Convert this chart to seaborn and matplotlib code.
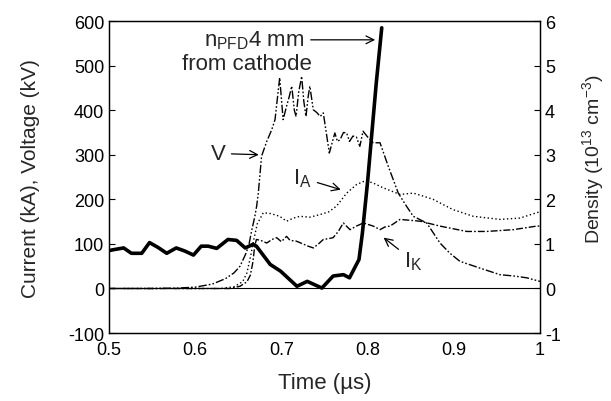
import pandas as pd
import matplotlib
matplotlib.use("Agg")
import matplotlib.pyplot as plt
import seaborn as sns

# Tension V (kV)
t_v = [0.50, 0.55, 0.58, 0.60, 0.62, 0.635, 0.645, 0.652, 0.658, 0.662, 0.6655, 0.669,
       0.6713, 0.6732, 0.677, 0.683, 0.6887, 0.6926, 0.698, 0.702, 0.706, 0.709, 0.712,
       0.715, 0.717, 0.720, 0.7235, 0.726, 0.7285, 0.731, 0.733, 0.737, 0.741, 0.745,
       0.7486, 0.7556, 0.762, 0.765, 0.768, 0.772, 0.7757, 0.779, 0.783, 0.787, 0.791,
       0.7947, 0.800, 0.8066, 0.8144, 0.824, 0.8356, 0.845, 0.853, 0.8686, 0.884, 0.895,
       0.907, 0.930, 0.9536, 0.970, 0.9846, 1.0]
v_kv = [0, 0, 1, 3, 10, 22, 35, 50, 75, 95, 130, 160,
        185, 214, 297, 330, 356, 379, 473, 379, 409, 430, 454,
        400, 386, 440, 476, 420, 386, 430, 454, 401, 395, 386,
        394, 304, 349, 330, 334, 350, 349, 330, 342, 340, 319,
        353, 340, 327, 327, 274, 214, 185, 162, 147, 102, 80,
        61, 46, 31, 28, 24, 16]

# Corriente de anodo I_A (kA)
t_ia = [0.50, 0.63, 0.645, 0.655, 0.660, 0.664, 0.668, 0.672, 0.679, 0.688, 0.698, 0.706,
        0.714, 0.7216, 0.733, 0.745, 0.755, 0.764, 0.7757, 0.787, 0.795, 0.805, 0.818,
        0.8376, 0.853, 0.865, 0.876, 0.899, 0.9226, 0.9536, 0.9768, 0.996, 1.0]
ia_ka = [0, 0, 4, 15, 35, 70, 110, 145, 170, 168, 162, 151,
         158, 162, 160, 166, 172, 185, 214, 233, 240, 238, 226,
         211, 214, 207, 200, 177, 162, 155, 158, 170, 172]

# Corriente de catodo I_K (kA)
t_ik = [0.50, 0.64, 0.652, 0.660, 0.664, 0.667, 0.669, 0.671, 0.676, 0.683, 0.689, 0.6945,
        0.700, 0.706, 0.710, 0.7177, 0.725, 0.731, 0.737, 0.743, 0.7486, 0.755, 0.760,
        0.766, 0.7718, 0.7796, 0.787, 0.795, 0.8066, 0.8144, 0.820, 0.826, 0.8376, 0.861,
        0.884, 0.915, 0.938, 0.969, 0.996, 1.0]
ik_ka = [0, 0, 5, 15, 30, 60, 95, 110, 108, 102, 110, 114,
         105, 117, 108, 106, 100, 95, 91, 100, 110, 112, 114,
         128, 147, 132, 140, 147, 140, 132, 138, 140, 155, 151,
         140, 128, 128, 132, 140, 140]

# Densidad n_PFD a 4 mm del catodo (1e13 cm^-3)
t_n = [0.500, 0.505, 0.517, 0.526, 0.538, 0.547, 0.557, 0.567, 0.578, 0.588, 0.598, 0.607,
       0.615, 0.625, 0.638, 0.648, 0.658, 0.667, 0.671, 0.687, 0.699, 0.718, 0.730, 0.747,
       0.760, 0.772, 0.779, 0.790, 0.794, 0.800, 0.805, 0.810, 0.8164]
n_dens = [0.85, 0.87, 0.91, 0.79, 0.79, 1.03, 0.92, 0.79, 0.91, 0.84, 0.75, 0.95,
          0.95, 0.90, 1.10, 1.08, 0.91, 0.99, 0.95, 0.54, 0.39, 0.05, 0.16, 0.01,
          0.28, 0.31, 0.24, 0.65, 1.25, 2.40, 3.50, 4.60, 5.85]

sns.set_style("white")
plt.rcParams['font.family'] = ['Liberation Sans', 'DejaVu Sans']
plt.rcParams['mathtext.fontset'] = 'custom'
plt.rcParams['mathtext.rm'] = 'Liberation Sans'
plt.rcParams['axes.unicode_minus'] = False

fig = plt.figure(figsize=(6.11, 4.02), dpi=100)
ax = fig.add_axes([0.1784, 0.169, 0.7054, 0.776])

# Curvas en kA / kV
sns.lineplot(x=t_v, y=v_kv, ax=ax, color='black', lw=1.0,
             linestyle=(0, (6, 1.5, 1.2, 1.5, 1.2, 1.5)))
sns.lineplot(x=t_ia, y=ia_ka, ax=ax, color='black', lw=1.0,
             linestyle=(0, (1, 1.8)))
sns.lineplot(x=t_ik, y=ik_ka, ax=ax, color='black', lw=1.0,
             linestyle=(0, (5, 1.5, 1.2, 1.5)))
ax.axhline(0, color='black', lw=0.8)

ax.set_xlim(0.5, 1.0)
ax.set_ylim(-100, 600)
ax.set_xticks([0.5, 0.6, 0.7, 0.8, 0.9, 1.0])
ax.set_xticklabels(['0.5', '0.6', '0.7', '0.8', '0.9', '1'])
ax.set_yticks(range(-100, 601, 100))

# Eje derecho para la densidad
ax2 = ax.twinx()
sns.lineplot(x=t_n, y=n_dens, ax=ax2, color='black', lw=2.6)
ax2.set_ylim(-1, 6)
ax2.set_yticks(range(-1, 7))

for a in (ax, ax2):
    a.tick_params(direction='in', length=4, width=0.8, labelsize=13, colors='black')
    for s in a.spines.values():
        s.set_color('black')
        s.set_linewidth(0.9)
ax.tick_params(axis='x', pad=6)

ax.set_xlabel('Time (µs)', fontsize=16, labelpad=10)
ax.set_ylabel('Current (kA), Voltage (kV)', fontsize=15, labelpad=20)
ax2.set_ylabel('Density (10$^{\\mathregular{13}}$ cm$^{\\mathregular{-3}}$)', fontsize=14)
ax2.yaxis.set_label_coords(1.093, 0.56)

# Anotaciones
ap = dict(arrowstyle='->', color='black', lw=0.9, mutation_scale=14)
ax.annotate('n$_{\\mathregular{PFD}}$4 mm', xy=(0.812, 558), xytext=(0.727, 558),
            fontsize=16, ha='right', va='center', arrowprops=ap)
ax.text(0.66, 505, 'from cathode', fontsize=16, ha='center', va='center')
ax.annotate('V', xy=(0.677, 300), xytext=(0.635, 303),
            fontsize=16, ha='right', va='center', arrowprops=ap)
ax.annotate('I$_{\\mathregular{A}}$', xy=(0.772, 220), xytext=(0.724, 248),
            fontsize=16, ha='center', va='center', arrowprops=ap)
ax.annotate('I$_{\\mathregular{K}}$', xy=(0.816, 118), xytext=(0.853, 62),
            fontsize=16, ha='center', va='center', arrowprops=ap)

fig.savefig('out.png', dpi=100)
